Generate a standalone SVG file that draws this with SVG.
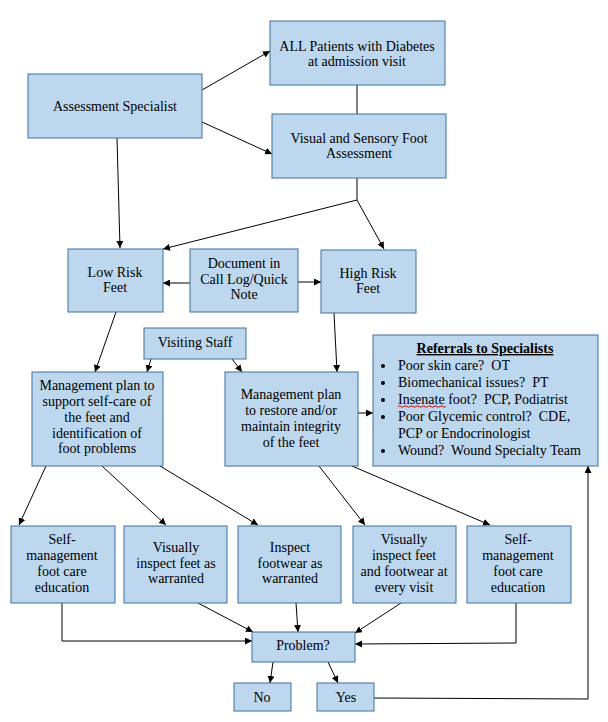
<svg xmlns="http://www.w3.org/2000/svg" width="608" height="722" viewBox="0 0 608 722">
<style>
.n rect{fill:#BDD7EE;stroke:#41719C;stroke-width:1}
.t{white-space:pre}
.c{text-anchor:middle}
.e line,.e polyline{stroke:#000;stroke-width:1;fill:none}
.a{marker-end:url(#ah)}
</style>
<defs>
<marker id="ah" viewBox="0 0 8 8" refX="8" refY="4" markerWidth="7" markerHeight="7" markerUnits="userSpaceOnUse" orient="auto">
<path d="M0,0 L8,4 L0,8 z" fill="#000"/>
</marker>
</defs>
<rect width="608" height="722" fill="#fff"/>
<g class="e" id="connectors">
<line class="a" x1="202" y1="90" x2="270" y2="51"/>
<line class="a" x1="202" y1="122" x2="272" y2="154"/>
<line x1="357" y1="85" x2="357" y2="114"/>
<line class="a" x1="117" y1="138" x2="120" y2="248"/>
<polyline points="357,178 357,200"/>
<line class="a" x1="357" y1="200" x2="163" y2="249"/>
<line class="a" x1="357" y1="200" x2="384" y2="249"/>
<line class="a" x1="190" y1="283" x2="163" y2="283"/>
<line class="a" x1="298" y1="282" x2="321" y2="282"/>
<line class="a" x1="116" y1="312" x2="95" y2="372"/>
<line class="a" x1="151" y1="359" x2="147" y2="372"/>
<line class="a" x1="232" y1="359" x2="242" y2="372"/>
<line class="a" x1="334" y1="313" x2="337" y2="372"/>
<line class="a" x1="358" y1="413" x2="373" y2="413"/>
<line class="a" x1="46" y1="466" x2="19" y2="525"/>
<line class="a" x1="102" y1="466" x2="166" y2="525"/>
<line class="a" x1="160" y1="466" x2="258" y2="525"/>
<line class="a" x1="319" y1="466" x2="365" y2="525"/>
<line class="a" x1="352" y1="466" x2="490" y2="525"/>
<polyline class="a" points="62,603 62,641 252,641"/>
<line class="a" x1="198" y1="603" x2="253" y2="632"/>
<line class="a" x1="296" y1="603" x2="298" y2="632"/>
<line class="a" x1="401" y1="603" x2="355" y2="633"/>
<polyline class="a" points="516,603 516,643 355,644"/>
<line class="a" x1="273" y1="662" x2="270" y2="683"/>
<line class="a" x1="328" y1="662" x2="338" y2="683"/>
<polyline class="a" points="374,698 588,699 588,466"/>
</g>
<g class="n" id="assessment-specialist"><rect x="28" y="74" width="174" height="64"/><text class="t c" font-family="Liberation Serif" font-size="14" x="115" y="111">Assessment Specialist</text></g>
<g class="n" id="all-patients"><rect x="270" y="21" width="175" height="64"/><text class="t c" font-family="Liberation Serif" font-size="14" x="357" y="51">ALL Patients with Diabetes</text><text class="t c" font-family="Liberation Serif" font-size="14" x="357" y="66">at admission visit</text></g>
<g class="n" id="visual-sensory"><rect x="272" y="114" width="174" height="64"/><text class="t c" font-family="Liberation Serif" font-size="14" x="359" y="143">Visual and Sensory Foot</text><text class="t c" font-family="Liberation Serif" font-size="14" x="359" y="158">Assessment</text></g>
<g class="n" id="low-risk"><rect x="68" y="249" width="95" height="63"/><text class="t c" font-family="Liberation Serif" font-size="14" x="115" y="277">Low Risk</text><text class="t c" font-family="Liberation Serif" font-size="14" x="115" y="292">Feet</text></g>
<g class="n" id="document"><rect x="190" y="249" width="108" height="63"/><text class="t c" font-family="Liberation Serif" font-size="14" x="244" y="268">Document in</text><text class="t c" font-family="Liberation Serif" font-size="14" x="244" y="284">Call Log/Quick</text><text class="t c" font-family="Liberation Serif" font-size="14" x="244" y="299">Note</text></g>
<g class="n" id="high-risk"><rect x="321" y="250" width="95" height="63"/><text class="t c" font-family="Liberation Serif" font-size="14" x="368" y="278">High Risk</text><text class="t c" font-family="Liberation Serif" font-size="14" x="368" y="293">Feet</text></g>
<g class="n" id="visiting-staff"><rect x="144" y="328" width="102" height="31"/><text class="t c" font-family="Liberation Serif" font-size="14" x="195" y="347">Visiting Staff</text></g>
<g class="n" id="mgmt-left"><rect x="32" y="372" width="131" height="94"/><text class="t c" font-family="Liberation Serif" font-size="14" x="97" y="390">Management plan to</text><text class="t c" font-family="Liberation Serif" font-size="14" x="97" y="406">support self-care of</text><text class="t c" font-family="Liberation Serif" font-size="14" x="97" y="422">the feet and</text><text class="t c" font-family="Liberation Serif" font-size="14" x="97" y="438">identification of</text><text class="t c" font-family="Liberation Serif" font-size="14" x="97" y="453">foot problems</text></g>
<g class="n" id="mgmt-right"><rect x="225" y="372" width="133" height="94"/><text class="t c" font-family="Liberation Serif" font-size="14" x="291" y="399">Management plan</text><text class="t c" font-family="Liberation Serif" font-size="14" x="291" y="415">to restore and/or</text><text class="t c" font-family="Liberation Serif" font-size="14" x="291" y="431">maintain integrity</text><text class="t c" font-family="Liberation Serif" font-size="14" x="291" y="447">of the feet</text></g>
<g class="n" id="referrals"><rect x="373" y="335" width="225" height="131"/>
<text class="t c" font-family="Liberation Serif" font-size="14" x="485" y="353" font-weight="bold" text-decoration="underline">Referrals to Specialists</text>
<g fill="#000"><circle cx="383" cy="366" r="2"/><circle cx="383" cy="383" r="2"/><circle cx="383" cy="400" r="2"/><circle cx="383" cy="417" r="2"/><circle cx="383" cy="451" r="2"/></g>
<text class="t" font-family="Liberation Serif" font-size="14" x="398" y="370">Poor skin care?  OT</text>
<text class="t" font-family="Liberation Serif" font-size="14" x="398" y="387">Biomechanical issues?  PT</text>
<text class="t" font-family="Liberation Serif" font-size="14" x="398" y="404">Insenate foot?  PCP, Podiatrist</text>
<text class="t" font-family="Liberation Serif" font-size="14" x="398" y="421">Poor Glycemic control?  CDE,</text>
<text class="t" font-family="Liberation Serif" font-size="14" x="398" y="438">PCP or Endocrinologist</text>
<text class="t" font-family="Liberation Serif" font-size="14" x="398" y="455">Wound?  Wound Specialty Team</text>
<path d="M398,406.5 q1.5,-1.5 3,0 t3,0 t3,0 t3,0 t3,0 t3,0 t3,0 t3,0 t3,0 t3,0 t3,0 t3,0 t3,0 t3,0 t3,0 t3,0" fill="none" stroke="#E00000" stroke-width="1"/>
</g>
<g class="n" id="self-mgmt-1"><rect x="11" y="526" width="104" height="77"/><text class="t c" font-family="Liberation Serif" font-size="14" x="62" y="544">Self-</text><text class="t c" font-family="Liberation Serif" font-size="14" x="62" y="560">management</text><text class="t c" font-family="Liberation Serif" font-size="14" x="62" y="576">foot care</text><text class="t c" font-family="Liberation Serif" font-size="14" x="62" y="592">education</text></g>
<g class="n" id="visually-inspect"><rect x="124" y="526" width="103" height="77"/><text class="t c" font-family="Liberation Serif" font-size="14" x="176" y="552">Visually</text><text class="t c" font-family="Liberation Serif" font-size="14" x="176" y="568">inspect feet as</text><text class="t c" font-family="Liberation Serif" font-size="14" x="176" y="583">warranted</text></g>
<g class="n" id="inspect-footwear"><rect x="238" y="526" width="103" height="77"/><text class="t c" font-family="Liberation Serif" font-size="14" x="290" y="552">Inspect</text><text class="t c" font-family="Liberation Serif" font-size="14" x="290" y="568">footwear as</text><text class="t c" font-family="Liberation Serif" font-size="14" x="290" y="583">warranted</text></g>
<g class="n" id="inspect-every-visit"><rect x="353" y="526" width="103" height="77"/><text class="t c" font-family="Liberation Serif" font-size="14" x="404" y="544">Visually</text><text class="t c" font-family="Liberation Serif" font-size="14" x="404" y="560">inspect feet</text><text class="t c" font-family="Liberation Serif" font-size="14" x="404" y="576">and footwear at</text><text class="t c" font-family="Liberation Serif" font-size="14" x="404" y="592">every visit</text></g>
<g class="n" id="self-mgmt-2"><rect x="467" y="526" width="104" height="77"/><text class="t c" font-family="Liberation Serif" font-size="14" x="518" y="544">Self-</text><text class="t c" font-family="Liberation Serif" font-size="14" x="518" y="560">management</text><text class="t c" font-family="Liberation Serif" font-size="14" x="518" y="576">foot care</text><text class="t c" font-family="Liberation Serif" font-size="14" x="518" y="592">education</text></g>
<g class="n" id="problem"><rect x="252" y="632" width="103" height="30"/><text class="t c" font-family="Liberation Serif" font-size="14" x="303" y="650">Problem?</text></g>
<g class="n" id="no"><rect x="234" y="683" width="57" height="28"/><text class="t c" font-family="Liberation Serif" font-size="14" x="262" y="702">No</text></g>
<g class="n" id="yes"><rect x="317" y="683" width="57" height="28"/><text class="t c" font-family="Liberation Serif" font-size="14" x="346" y="702">Yes</text></g>
</svg>
